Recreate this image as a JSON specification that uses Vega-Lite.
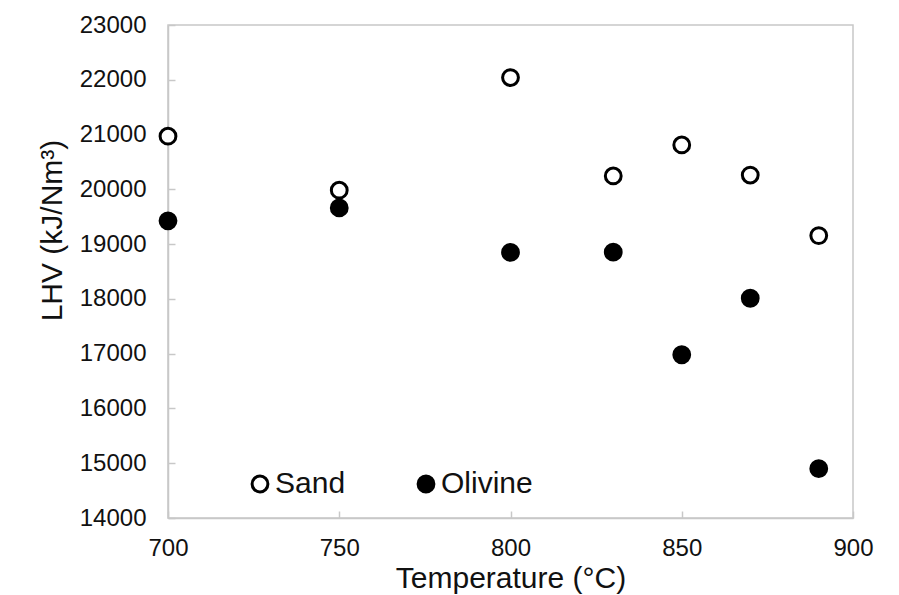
{
  "$schema": "https://vega.github.io/schema/vega-lite/v6.json",
  "width": 685,
  "height": 493,
  "autosize": {"type": "none"},
  "padding": {"left": 168, "top": 25, "right": 46, "bottom": 77},
  "background": "white",
  "config": {
    "font": "Liberation Sans",
    "view": {"stroke": "#c8c8c8", "strokeWidth": 1.5},
    "axis": {
      "grid": false,
      "domainColor": "#c8c8c8",
      "domainWidth": 1.5,
      "tickColor": "#c8c8c8",
      "tickWidth": 1.5,
      "tickSize": -7,
      "labelColor": "#111",
      "titleColor": "#111",
      "labelFontSize": 24,
      "titleFontSize": 30,
      "titleFontWeight": "normal",
      "format": "d"
    }
  },
  "data": {
    "values": [
      {"temp": 700, "lhv": 20970, "bed": "Sand"},
      {"temp": 750, "lhv": 19985, "bed": "Sand"},
      {"temp": 800, "lhv": 22040, "bed": "Sand"},
      {"temp": 830, "lhv": 20245, "bed": "Sand"},
      {"temp": 850, "lhv": 20810, "bed": "Sand"},
      {"temp": 870, "lhv": 20260, "bed": "Sand"},
      {"temp": 890, "lhv": 19155, "bed": "Sand"},
      {"temp": 700, "lhv": 19425, "bed": "Olivine"},
      {"temp": 750, "lhv": 19660, "bed": "Olivine"},
      {"temp": 800, "lhv": 18850, "bed": "Olivine"},
      {"temp": 830, "lhv": 18855, "bed": "Olivine"},
      {"temp": 850, "lhv": 16980, "bed": "Olivine"},
      {"temp": 870, "lhv": 18012, "bed": "Olivine"},
      {"temp": 890, "lhv": 14900, "bed": "Olivine"}
    ]
  },
  "mark": {"type": "point", "shape": "circle", "filled": true, "size": 250, "stroke": "black", "strokeWidth": 3, "opacity": 1},
  "encoding": {
    "x": {
      "field": "temp", "type": "quantitative",
      "scale": {"domain": [700, 900], "nice": false, "zero": false},
      "axis": {"values": [700, 750, 800, 850, 900], "format": "d", "title": "Temperature  (°C)", "labelPadding": 25, "titlePadding": 3, "labelFlush": false}
    },
    "y": {
      "field": "lhv", "type": "quantitative",
      "scale": {"domain": [14000, 23000], "nice": false, "zero": false},
      "axis": {"values": [14000, 15000, 16000, 17000, 18000, 19000, 20000, 21000, 22000, 23000], "format": "d", "title": "LHV (kJ/Nm³)", "labelPadding": 29, "titlePadding": 12, "titleY": 205}
    },
    "fill": {
      "field": "bed", "type": "nominal",
      "scale": {"domain": ["Sand", "Olivine"], "range": ["white", "black"]},
      "legend": {
        "title": null,
        "orient": "none",
        "direction": "horizontal",
        "legendX": 77,
        "legendY": 444,
        "symbolType": "circle",
        "symbolSize": 250,
        "symbolStrokeColor": "black",
        "symbolStrokeWidth": 3,
        "labelFontSize": 30,
        "labelColor": "#111",
        "labelOffset": 0,
        "columnPadding": 65
      }
    }
  }
}
